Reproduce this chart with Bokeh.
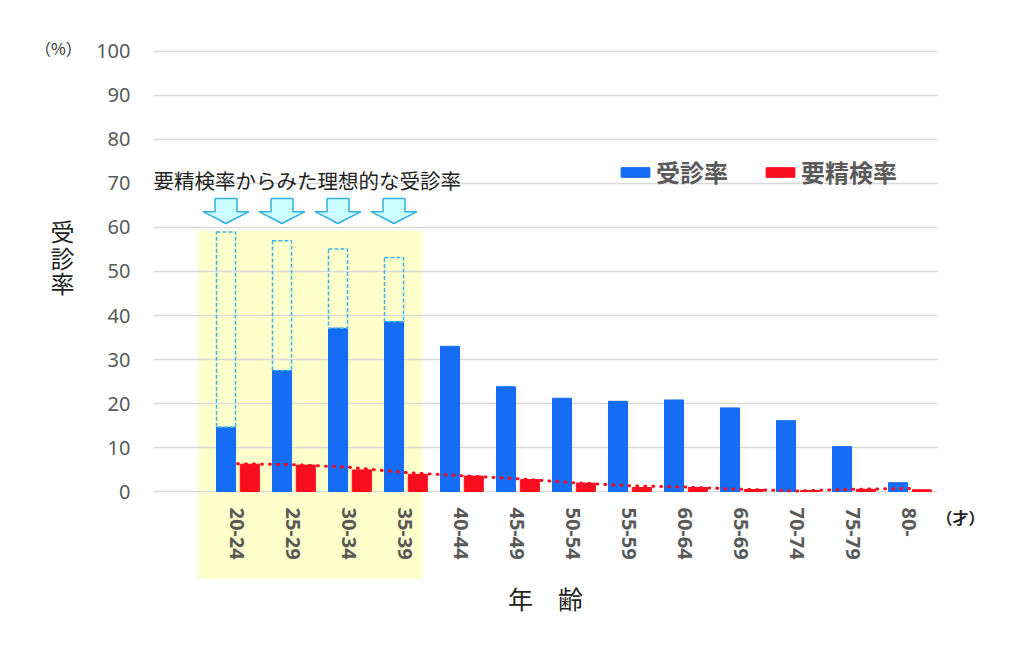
import math
import numpy as np
from bokeh.plotting import figure
from bokeh.models import Range1d, FixedTicker, Label, Legend, LegendItem
from bokeh.embed import file_html
from bokeh.resources import INLINE

# age groups and rates (%)
age_groups = ["20-24", "25-29", "30-34", "35-39", "40-44", "45-49", "50-54",
              "55-59", "60-64", "65-69", "70-74", "75-79", "80-"]
jushin = [14.6, 27.5, 37.1, 38.6, 33.0, 23.8, 21.2, 20.5, 20.8, 19.0, 16.1, 10.2, 2.0]
yoseiken = [6.2, 6.0, 4.9, 3.9, 3.5, 2.7, 1.9, 0.9, 0.9, 0.45, 0.2, 0.5, 0.4]
trend = [6.3, 6.1, 5.5, 4.3, 3.6, 2.9, 2.0, 1.3, 1.0, 0.5, 0.1, 0.5, 0.7]
# ideal rate derived from 要精検率 (first four groups)
ideal = [59.0, 57.0, 55.1, 53.2]
y_ticks = [0, 10, 20, 30, 40, 50, 60, 70, 80, 90, 100]

BLUE = "#156CF5"
RED = "#FA0D1E"
GRAY = "#595959"
JP = "Noto Sans CJK JP"

idx = np.arange(len(age_groups))
x_lo, x_hi = -1.5, len(age_groups) - 0.5

# frame covers the whole canvas; axes are pinned inside it
p = figure(width=1008, height=630, x_range=Range1d(-4.232, 13.768), y_range=Range1d(-31.59, 111.59),
           output_backend="svg", toolbar_location=None,
           min_border_left=0, min_border_right=0, min_border_top=0, min_border_bottom=0)
p.outline_line_color = None
p.background_fill_color = "white"
p.border_fill_color = "white"
p.xgrid.visible = False
p.ygrid.visible = False

# highlight box for the 20-39 groups
n_ideal = len(ideal)
p.quad(left=[idx[0] - 0.7], right=[idx[n_ideal - 1] + 0.3], bottom=[-19.8], top=[max(ideal) + 0.3],
       fill_color="#FFFFCC", line_color=None)

# horizontal grid lines across the plot area
p.segment(x0=x_lo, x1=x_hi, y0=y_ticks, y1=y_ticks, line_color="#D9D9D9", line_width=1.5)

# bars
blue_x = idx - 0.205
red_x = idx + 0.22
r_blue = p.vbar(x=blue_x, top=jushin, width=0.34, fill_color=BLUE, line_color=BLUE)
r_red = p.vbar(x=red_x, top=yoseiken, width=0.34, fill_color=RED, line_color=RED)
r_trend = p.line(idx, trend, line_color=RED, line_width=3, line_dash="1 7", line_cap="round")

# ideal bars (dashed outline)
ix = blue_x[:n_ideal]
p.quad(left=ix - 0.17, right=ix + 0.17, bottom=jushin[:n_ideal], top=ideal,
       fill_color=None, line_color="#3AB4E6", line_width=1.5, line_dash="4 2")

# arrows above the ideal bars
ax, ay = [], []
for cx in ix:
    ax.append([cx - 0.196, cx + 0.196, cx + 0.196, cx + 0.41, cx, cx - 0.41, cx - 0.196])
    ay.append([66.6, 66.6, 63.6, 63.6, 60.9, 63.6, 63.6])
p.patches(ax, ay, fill_color="#CCFFFF", line_color="#33AEE6", line_width=1.5)

p.add_layout(Label(x=x_lo, y=70.7, text="要精検率からみた理想的な受診率", text_font=JP,
                   text_font_size="20.5px", text_color="#222222", text_baseline="middle"))

# axes
p.yaxis.fixed_location = x_lo
p.yaxis.ticker = FixedTicker(ticks=y_ticks)
p.yaxis.axis_line_color = None
p.yaxis.major_tick_line_color = None
p.yaxis.minor_tick_line_color = None
p.yaxis.major_label_standoff = 17
p.yaxis.major_label_text_font = "Noto Sans"
p.yaxis.major_label_text_font_size = "20px"
p.yaxis.major_label_text_color = GRAY

p.xaxis.fixed_location = 0
p.xaxis.ticker = FixedTicker(ticks=list(idx))
p.xaxis.major_label_overrides = {int(i): g for i, g in zip(idx, age_groups)}
p.xaxis.major_label_orientation = -math.pi / 2
p.xaxis.axis_line_color = None
p.xaxis.major_tick_line_color = None
p.xaxis.minor_tick_line_color = None
p.xaxis.major_label_standoff = 10
p.xaxis.major_label_text_font = "Noto Sans"
p.xaxis.major_label_text_font_style = "bold"
p.xaxis.major_label_text_font_size = "20px"
p.xaxis.major_label_text_color = GRAY

# axis titles and units
p.add_layout(Label(x=5.5, y=-24.1, text="年　齢", text_font=JP, text_font_size="25px",
                   text_color="#222222", text_align="center", text_baseline="middle"))
for ch, yy in zip("受診率", [59.3, 53.2, 47.5]):
    p.add_layout(Label(x=-3.125, y=yy, text=ch, text_font=JP, text_font_size="24px",
                       text_color="#222222", text_align="center", text_baseline="middle"))
p.add_layout(Label(x=-3.2, y=100.9, text="（%）", text_font=JP, text_font_size="16px",
                   text_color="#333333", text_align="center", text_baseline="middle"))
p.add_layout(Label(x=12.91, y=-5.9, text="（才）", text_font=JP, text_font_size="16px",
                   text_font_style="bold", text_color="#222222", text_align="center",
                   text_baseline="middle"))

legend = Legend(items=[LegendItem(label="受診率", renderers=[r_blue]),
                       LegendItem(label="要精検率", renderers=[r_red])],
                orientation="horizontal", location=(617, 441),
                glyph_width=36, glyph_height=12, label_height=24, label_standoff=3,
                spacing=34, padding=0, margin=0,
                label_text_font=JP, label_text_font_size="24px", label_text_font_style="bold",
                label_text_color=GRAY, border_line_color=None, background_fill_alpha=0)
p.add_layout(legend)

open("out.html", "w").write(file_html(p, INLINE))
